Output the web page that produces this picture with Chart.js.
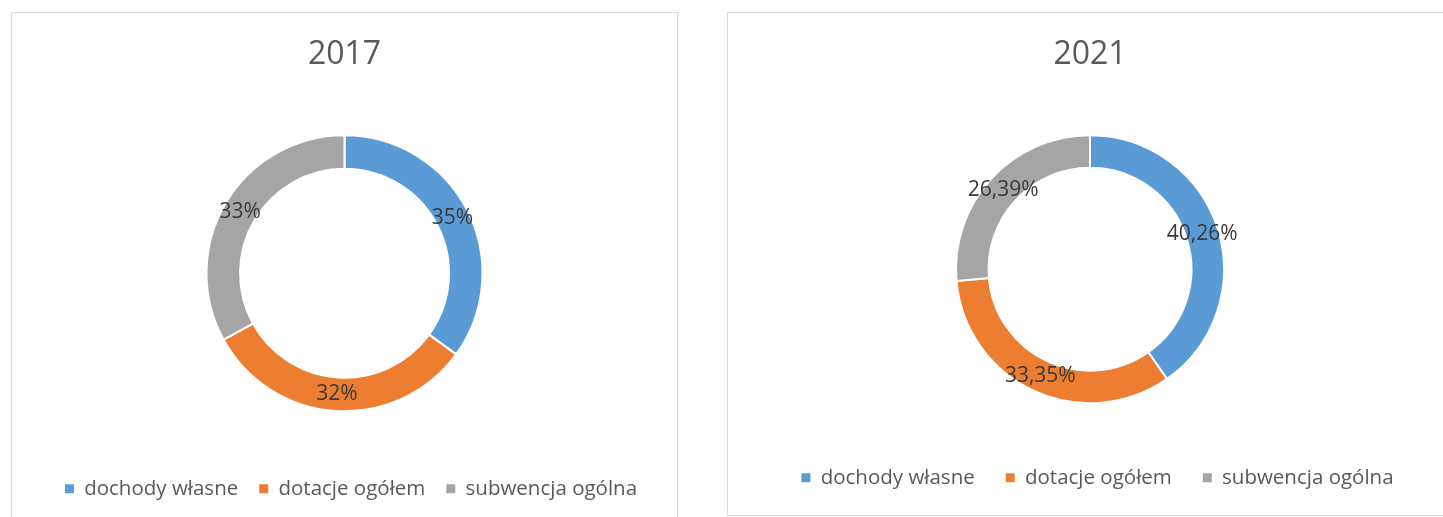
<!DOCTYPE html>
<html>
<head>
<meta charset="utf-8">
<script src="https://cdn.jsdelivr.net/npm/chart.js@4.4.1/dist/chart.umd.min.js"></script>
<style>
body { margin: 0; background: #fff; width: 1443px; height: 517px; overflow: hidden; position: relative; }
.panel { position: absolute; border: 1px solid #d9d9d9; background: #fff; }
#p1 { left: 11px; top: 12px; }
#p2 { left: 727px; top: 12px; }
canvas { display: block; }
</style>
</head>
<body>
<div class="panel" id="p1"><canvas id="chart2017" width="665" height="506"></canvas></div>
<div class="panel" id="p2"><canvas id="chart2021" width="724" height="502"></canvas></div>
<script>
const categories = ["dochody własne", "dotacje ogółem", "subwencja ogólna"];
const values2017 = [35, 32, 33];
const values2021 = [40.26, 33.35, 26.39];
const colors = ["#5B9BD5", "#ED7D31", "#A5A5A5"];
const FONT = "'Open Sans', 'Noto Sans', sans-serif";

// percent labels in the middle of each ring segment
const sliceLabels = {
    id: "sliceLabels",
    afterDatasetsDraw(chart, args, opts) {
        const ctx = chart.ctx;
        const data = chart.data.datasets[0].data;
        ctx.save();
        ctx.font = "21px " + FONT;
        ctx.fillStyle = "#3a3a3a";
        ctx.textAlign = "center";
        ctx.textBaseline = "middle";
        chart.getDatasetMeta(0).data.forEach((arc, i) => {
            const p = arc.tooltipPosition();
            ctx.fillText(data[i].toFixed(opts.decimals).replace(".", ",") + "%", p.x, p.y);
        });
        ctx.restore();
    },
};

// nudge the legend sideways, like in the original
const legendShift = {
    id: "legendShift",
    afterLayout(chart, args, opts) {
        chart.legend.left += opts.dx;
        chart.legend.right += opts.dx;
    },
};

function makeChart(id, year, values, cfg) {
    const ctx = document.getElementById(id).getContext("2d");
    return new Chart(ctx, {
        type: "doughnut",
        data: {
            labels: categories,
            datasets: [
                {
                    data: values,
                    backgroundColor: colors,
                    borderColor: "#ffffff",
                    borderWidth: 2,
                    radius: cfg.radius,
                    cutout: "75.7%",
                },
            ],
        },
        options: {
            responsive: false,
            animation: false,
            layout: { padding: { bottom: cfg.padBottom } },
            plugins: {
                title: {
                    display: true,
                    text: year,
                    color: "#595959",
                    font: { family: FONT, size: 32, weight: "normal" },
                    padding: { top: cfg.titleTop, bottom: cfg.titleBottom },
                },
                legend: {
                    position: "bottom",
                    labels: {
                        color: "#595959",
                        font: { family: FONT, size: 20.5 },
                        boxWidth: 9,
                        boxHeight: 9,
                        padding: cfg.legendPad,
                        generateLabels: (chart) =>
                            Chart.overrides.doughnut.plugins.legend.labels
                                .generateLabels(chart)
                                .map((l) => ({ ...l, lineWidth: 0 })),
                    },
                },
                tooltip: { enabled: false },
                sliceLabels: { decimals: cfg.decimals },
                legendShift: { dx: cfg.legendDx },
            },
        },
        plugins: [sliceLabels, legendShift],
    });
}

makeChart("chart2017", "2017", values2017, {
    radius: 138, padBottom: 10, titleTop: 22.3, titleBottom: 15.3,
    legendPad: 21, legendDx: 6.5, decimals: 0,
});

makeChart("chart2021", "2021", values2021, {
    radius: 134, padBottom: 17, titleTop: 22.3, titleBottom: 28.3,
    legendPad: 31, legendDx: 7.5, decimals: 2,
});
</script>
</body>
</html>
